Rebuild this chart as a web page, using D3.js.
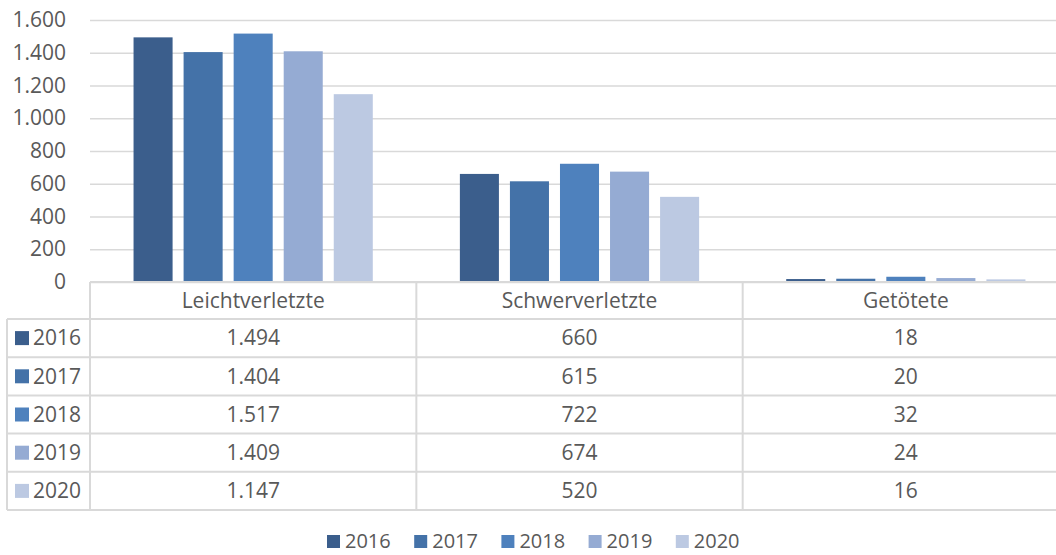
<!DOCTYPE html>
<html>
<head>
<meta charset="utf-8">
<script src="https://cdn.jsdelivr.net/npm/d3@7"></script>
<style>
  body { margin: 0; background: #fff; }
  text { font-family: "Open Sans", "Liberation Sans", sans-serif; fill: #595959; }
</style>
</head>
<body>
<svg width="1056" height="555"></svg>
<script>
var categories = ['Leichtverletzte', 'Schwerverletzte', 'Getötete'];
var years = ['2016', '2017', '2018', '2019', '2020'];
var v2016 = [1494, 660, 18];
var v2017 = [1404, 615, 20];
var v2018 = [1517, 722, 32];
var v2019 = [1409, 674, 24];
var v2020 = [1147, 520, 16];
var yTicks = [0, 200, 400, 600, 800, 1000, 1200, 1400, 1600];
var colors = ['#3b5e8c', '#4472a8', '#4e81bd', '#95abd3', '#bcc9e2'];

var series = [v2016, v2017, v2018, v2019, v2020];
var fmt = d3.formatLocale({decimal: ',', thousands: '.', grouping: [3], currency: ['', '€']}).format(',d');

var svg = d3.select('svg');
var plot = {l: 90, r: 1069, t: 20, b: 282};
var gridColor = '#d9d9d9';

var x0 = d3.scaleBand().domain(categories).range([plot.l, plot.r]);
var x1 = d3.scaleBand().domain(years).range([0, x0.bandwidth()]).paddingInner(0.22).paddingOuter(0.87);
var y = d3.scaleLinear().domain([0, 1600]).range([plot.b, plot.t]);
var color = d3.scaleOrdinal().domain(years).range(colors);

// gridlines + y labels
var yAxis = d3.axisLeft(y).tickValues(yTicks).tickFormat(fmt)
    .tickSize(-(plot.r - plot.l)).tickPadding(24);
var gy = svg.append('g').attr('transform', 'translate(' + plot.l + ',0)').call(yAxis);
gy.select('.domain').remove();
gy.selectAll('line').attr('stroke', gridColor).attr('stroke-width', 1.5);
gy.selectAll('text').style('font-size', '21px').attr('fill', '#595959')
    .style('font-family', '"Open Sans", sans-serif');

// bars
var groups = svg.selectAll('.cat')
    .data(categories)
    .enter().append('g')
    .attr('transform', function(d) { return 'translate(' + x0(d) + ',0)'; });

groups.selectAll('rect')
    .data(function(d, ci) { return years.map(function(yr, yi) { return {year: yr, value: series[yi][ci]}; }); })
    .enter().append('rect')
    .attr('x', function(d) { return x1(d.year); })
    .attr('width', x1.bandwidth())
    .attr('y', function(d) { return y(d.value); })
    .attr('height', function(d) { return plot.b - y(d.value); })
    .attr('fill', function(d) { return color(d.year); });

// data table
var headerBottom = 319;
var rowH = 38.2;
var tableLeft = 7;
var rowY = d3.scaleBand().domain(years).range([headerBottom, headerBottom + rowH * years.length]);
var tableBottom = headerBottom + rowH * years.length;

var tbl = svg.append('g').attr('stroke', gridColor).attr('stroke-width', 2).attr('fill', 'none');
// horizontal lines
tbl.append('line').attr('x1', plot.l).attr('x2', plot.r).attr('y1', plot.b).attr('y2', plot.b);
years.forEach(function(yr) {
    tbl.append('line').attr('x1', tableLeft).attr('x2', plot.r)
        .attr('y1', rowY(yr)).attr('y2', rowY(yr));
});
tbl.append('line').attr('x1', tableLeft).attr('x2', plot.r).attr('y1', tableBottom).attr('y2', tableBottom);
// vertical lines
tbl.append('line').attr('x1', tableLeft).attr('x2', tableLeft).attr('y1', headerBottom).attr('y2', tableBottom);
categories.forEach(function(c) {
    tbl.append('line').attr('x1', x0(c)).attr('x2', x0(c)).attr('y1', plot.b).attr('y2', tableBottom);
});

// header labels
svg.selectAll('.head')
    .data(categories)
    .enter().append('text')
    .attr('x', function(d) { return x0(d) + x0.bandwidth() / 2; })
    .attr('y', (plot.b + headerBottom) / 2)
    .attr('dy', '0.35em')
    .attr('text-anchor', 'middle')
    .style('font-size', '21px')
    .text(function(d) { return d; });

// row labels with keys
var rows = svg.selectAll('.row')
    .data(years)
    .enter().append('g')
    .attr('transform', function(d) { return 'translate(0,' + (rowY(d) + rowY.bandwidth() / 2) + ')'; });
rows.append('rect').attr('x', 15).attr('y', -7).attr('width', 14).attr('height', 14)
    .attr('fill', function(d) { return color(d); });
rows.append('text').attr('x', 33).attr('dy', '0.35em').style('font-size', '21px')
    .text(function(d) { return d; });
rows.each(function(yr, yi) {
    d3.select(this).selectAll('.val')
        .data(categories)
        .enter().append('text')
        .attr('x', function(c) { return x0(c) + x0.bandwidth() / 2; })
        .attr('dy', '0.35em')
        .attr('text-anchor', 'middle')
        .style('font-size', '21px')
        .text(function(c, ci) { return fmt(series[yi][ci]); });
});

// legend
var legend = svg.selectAll('.legend')
    .data(years)
    .enter().append('g')
    .attr('transform', function(d, i) { return 'translate(' + (327 + i * 87.2) + ',541)'; });
legend.append('rect').attr('x', 0).attr('y', -6).attr('width', 13).attr('height', 13)
    .attr('fill', function(d) { return color(d); });
legend.append('text').attr('x', 18).attr('dy', '0.35em').style('font-size', '20px')
    .text(function(d) { return d; });
</script>
</body>
</html>
